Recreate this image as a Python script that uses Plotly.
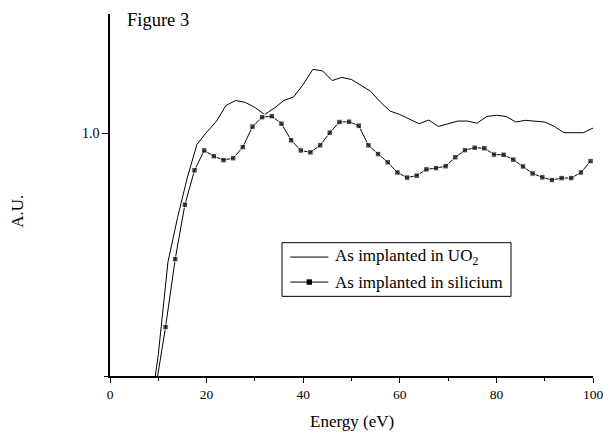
import plotly.graph_objects as go

# UO2 curve (eV, A.U.)
uo2_energy = [8, 10, 12, 14, 16, 18, 20, 22, 24, 26, 28, 30, 32, 34, 36, 38, 40,
              42, 44, 46, 48, 50, 52, 54, 56, 58, 60, 62, 64, 66, 68, 70, 72, 74,
              76, 78, 80, 82, 84, 86, 88, 90, 92, 94, 96, 98, 100]
uo2_values = [-0.20, 0.089, 0.470, 0.654, 0.817, 0.955, 1.005, 1.049, 1.115, 1.136,
              1.128, 1.107, 1.078, 1.104, 1.136, 1.150, 1.202, 1.264, 1.258, 1.218,
              1.231, 1.222, 1.198, 1.173, 1.129, 1.092, 1.078, 1.060, 1.040, 1.055,
              1.029, 1.040, 1.051, 1.051, 1.042, 1.070, 1.075, 1.070, 1.047, 1.054,
              1.051, 1.047, 1.029, 1.003, 1.003, 1.003, 1.022]

# Silicium curve (eV, A.U.)
si_energy = [9.5, 11.5, 13.5, 15.5, 17.5, 19.5, 21.5, 23.5, 25.5, 27.5, 29.5, 31.5,
             33.5, 35.5, 37.5, 39.5, 41.5, 43.5, 45.5, 47.5, 49.5, 51.5, 53.5, 55.5,
             57.5, 59.5, 61.5, 63.5, 65.5, 67.5, 69.5, 71.5, 73.5, 75.5, 77.5, 79.5,
             81.5, 83.5, 85.5, 87.5, 89.5, 91.5, 93.5, 95.5, 97.5, 99.5]
si_values = [-0.045, 0.202, 0.482, 0.706, 0.848, 0.930, 0.906, 0.890, 0.898, 0.944,
             1.028, 1.067, 1.071, 1.040, 0.972, 0.930, 0.922, 0.951, 1.003, 1.047,
             1.048, 1.032, 0.951, 0.915, 0.881, 0.839, 0.818, 0.826, 0.852, 0.857,
             0.865, 0.902, 0.931, 0.941, 0.939, 0.913, 0.912, 0.892, 0.864, 0.835,
             0.819, 0.808, 0.816, 0.816, 0.839, 0.886]

x_ticks = [0, 20, 40, 60, 80, 100]
x_ticktext = ["0", "20", "40", "60", "80", "100"]
x_minor = [10, 30, 50, 70, 90]
y_tickvals = [1.0]
y_ticktext = ["1.0"]
legend_labels = ["As implanted in UO<sub>2</sub>", "As implanted in silicium"]

FONT = "Liberation Serif, Times New Roman, serif"

fig = go.Figure()
fig.add_trace(go.Scatter(
    x=uo2_energy, y=uo2_values, mode="lines",
    line=dict(color="black", width=1),
    name=legend_labels[0], showlegend=False,
))
fig.add_trace(go.Scatter(
    x=si_energy, y=si_values, mode="lines+markers",
    line=dict(color="black", width=1),
    marker=dict(symbol="square", color="black",
                size=[0] + [5.5] * (len(si_values) - 1)),
    name=legend_labels[1], showlegend=False,
))

L, R, T, B = 109.7, 10.3, 13.5, 58.3
W, H = 603, 434
pw, ph = W - L - R, H - T - B

def px_x(p):
    return (p - L) / pw

def px_y(p):
    return (H - B - p) / ph

# hand-drawn legend (box, samples, labels)
box = dict(x0=281.7, y0=242.3, x1=510.7, y1=296.0)
rows_y = [256.7, 281.7]
sample_x0, sample_x1, text_x = 290.0, 328.0, 333.0

shapes = [
    dict(type="rect", xref="paper", yref="paper",
         x0=px_x(box["x0"]), x1=px_x(box["x1"]),
         y0=px_y(box["y1"]), y1=px_y(box["y0"]),
         line=dict(color="black", width=1), fillcolor="white", layer="above"),
]
for ry in rows_y:
    shapes.append(dict(type="line", xref="paper", yref="paper",
                       x0=px_x(sample_x0), x1=px_x(sample_x1),
                       y0=px_y(ry), y1=px_y(ry),
                       line=dict(color="black", width=1), layer="above"))
mx = (sample_x0 + sample_x1) / 2
shapes.append(dict(type="rect", xref="paper", yref="paper",
                   x0=px_x(mx - 2.7), x1=px_x(mx + 2.7),
                   y0=px_y(rows_y[1] + 2.7), y1=px_y(rows_y[1] - 2.7),
                   line=dict(width=0), fillcolor="black", layer="above"))

annotations = [
    dict(text="Energy (eV)", xref="paper", yref="paper",
         x=0.5, y=px_y(421), xanchor="center", yanchor="middle",
         showarrow=False, font=dict(family=FONT, size=17)),
    dict(text="A.U.", xref="paper", yref="paper", textangle=-90,
         x=px_x(17), y=px_y(211), xanchor="center", yanchor="middle",
         showarrow=False, font=dict(family=FONT, size=17)),
    dict(text="Figure 3", xref="paper", yref="paper",
         x=px_x(125), y=px_y(20), xanchor="left", yanchor="middle",
         showarrow=False, font=dict(family=FONT, size=18.5)),
]
for lab, ry in zip(legend_labels, rows_y):
    annotations.append(dict(text=lab, xref="paper", yref="paper",
                            x=px_x(text_x), y=px_y(ry),
                            xanchor="left", yanchor="middle",
                            showarrow=False, font=dict(family=FONT, size=17)))

fig.update_layout(
    width=W, height=H,
    margin=dict(l=L, r=R, t=T, b=B, pad=0, autoexpand=False),
    paper_bgcolor="white", plot_bgcolor="white",
    font=dict(family=FONT, color="black", size=14),
    showlegend=False,
    xaxis=dict(
        range=[0, 100], tickmode="array", tickvals=x_ticks, ticktext=x_ticktext,
        ticks="outside", ticklen=5, ticklabeloverflow="allow", automargin=False,
        tickwidth=1.3, tickcolor="black",
        showline=True, linecolor="black", linewidth=1.5,
        showgrid=False, zeroline=False,
        tickfont=dict(family=FONT, size=13.5),
        minor=dict(tickmode="array", tickvals=x_minor, ticks="outside", ticklen=3,
                   tickcolor="black", tickwidth=1.3, showgrid=False),
    ),
    yaxis=dict(
        range=[0, (H - B - T) / 242.7], tickvals=y_tickvals, ticktext=y_ticktext,
        ticks="outside", ticklen=6, tickwidth=1.3, tickcolor="black",
        showline=True, linecolor="black", linewidth=1.5, automargin=False,
        showgrid=False, zeroline=False,
        tickfont=dict(family=FONT, size=14),
        minor=dict(tickvals=[0], ticks="outside", ticklen=4, tickcolor="black",
                   tickwidth=1.3, showgrid=False),
    ),
    shapes=shapes,
    annotations=annotations,
)

fig.write_html("out.html")
